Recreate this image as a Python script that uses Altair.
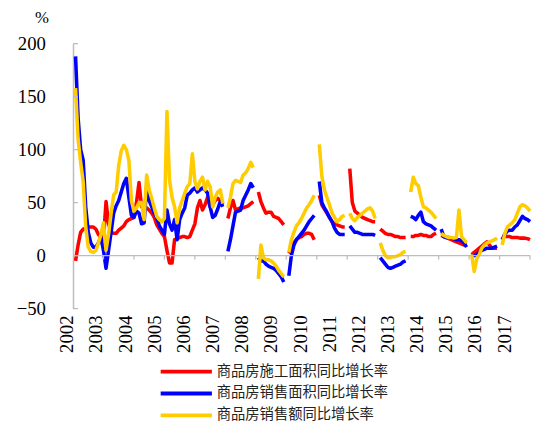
import altair as alt
import pandas as pd

N = None
series_names = ["商品房施工面积同比增长率", "商品房销售面积同比增长率", "商品房销售额同比增长率"]
series_colors = ["#FF0000", "#0000FF", "#FFCC00"]

# monthly values, month index 0 = 2002-01 ... 180 = 2017-01 (None = not published)
red = (
    [N, -5, 10, 22, 25, 26, 27, 27, 27, 25, 20, 17]
    + [15, 51, 30, 22, 21, 21, 24, 26, 28, 32, 34, 35]
    + [36, 50, 69, 46, 46, 45, 43, 40, 36, 29, 25, 21]
    + [18, 5, -7, -7, 15, 16, 17, 18, 18, 17, 18, 24]
    + [30, 45, 52, 43, 48, 55, 46, 48, 52, 54, 52, 48]
    + [N, 35, 45, 52, 43, 44, 45, 45, 46, 47, 49, 51]
    + [N, 60, 51, 45, 40, 41, 41, 37, 36, 35, 32, 29]
    + [N, 2, 6, 12, 15, 17, 18, 20, 21, 21, 20, 15]
    + [N, 57, 48, 44, 40, 36, 32, 30, 29, 28, 27, 27]
    + [N, 82, 50, 42, 40, 38, 36, 35, 34, 33, 32, 32]
    + [N, 25, 23, 21, 20, 20, 19, 18, 18, 17, 17, 17]
    + [N, 18, 18, 19, 19, 20, 19, 19, 18, 18, 20, 21]
    + [N, 19, 18, 17, 16, 15, 14, 13, 12, 11, 10, 10]
    + [N, 1, 3, 5, 7, 9, 11, 13, 10, 7, 7, 7]
    + [N, 18, 18, 18, 18, 17, 17, 17, 16.5, 16.5, 16.5, 16]
    + [15]
)
blue = (
    [N, 188, 130, 100, 90, 46, 22, 12, 8, 8, 12, 17]
    + [5, -12, 5, 22, 40, 47, 52, 60, 68, 73, 55, 38]
    + [36, 42, 40, 30, 31, 65, 52, 46, 40, 36, 28, 24]
    + [20, 43, 30, 24, 34, 15, 34, 40, 45, 57, 59, 62]
    + [64, 60, 62, 64, 62, 59, 46, 36, 38, 44, 51, 46]
    + [N, 4, 15, 28, 41, 42, 43, 52, 57, 62, 68, 64]
    + [N, -2, -5, -5, -8, -10, -11, -12, -14, -17, -20, -25]
    + [N, -19, 0, 10, 15, 18, 21, 24, 28, 32, 35, 38]
    + [N, 70, 50, 45, 41, 36, 32, 26, 22, 20, 20, 20]
    + [N, 28, 25, 22, 22, 21, 20, 20, 20, 20, 20, 19]
    + [N, -2, -5, -8, -11, -12, -11, -10, -9, -8, -6, -5]
    + [N, 37, 36, 34, 38, 41, 32, 30, 29, 28, 26, 24]
    + [N, 25, 18, 17, 17, 16.5, 16, 15, 15, 14, 12, 8]
    + [N, -1, 0, 1, 3, 5, 6, 7, 7, 7, 8, 9]
    + [N, 15, 20, 23, 24, 24, 27, 29, 33, 37, 35, 34]
    + [32]
)
yellow = (
    [N, 158, 110, 88, 70, 27, 8, 4, 3, 5, 12, 20]
    + [31, 5, 20, 40, 57, 60, 85, 99, 104, 100, 90, 52]
    + [42, 45, 50, 50, 34, 76, 62, 54, 45, 37, 34, 32]
    + [35, 136, 71, 55, 46, 31, 45, 52, 59, 65, 68, 96]
    + [70, 63, 70, 74, 62, 70, 65, 46, 55, 60, 62, 49]
    + [N, 45, 55, 68, 71, 70, 69, 76, 78, 82, 88, 83]
    + [N, -22, 10, -2, -4, -4, -5, -7, -10, -14, -17, -20]
    + [N, 3, 15, 22, 28, 31, 35, 40, 45, 48, 52, 57]
    + [N, 105, 75, 62, 55, 48, 40, 36, 32, 34, 37, 38]
    + [N, 40, 35, 33, 36, 38, 40, 42, 44, 45, 42, 35]
    + [N, 12, 5, 0, -2, -2, -1, -1, 0, 1, 3, 4]
    + [N, 60, 74, 68, 66, 55, 46, 45, 43, 41, 38, 35]
    + [N, 21, 19, 18, 17, 17, 16.5, 17, 43, 18, 15, 12]
    + [N, 1, -15, -3, 1, 7, 10, 12, 13, 14, 15, 16.5]
    + [N, 10, 20, 27, 29, 31, 34, 40, 46, 48, 47, 45]
    + [42]
)

years = [str(y) for y in range(2002, 2018)]
y_ticks = [-50, 0, 50, 100, 150, 200]
year_tick_months = [12 * k for k in range(1, 16)]
# year labels are evenly spread, slightly tighter than the year ticks
label_pos = [-2.2 + 11.48 * i for i in range(len(years))]

# long table; a new segment starts after every missing month so the line breaks there
rows = []
for order, (name, vals) in enumerate(zip(series_names, [red, blue, yellow])):
    seg = 0
    for m, v in enumerate(vals):
        if v is None:
            seg += 1
            continue
        rows.append({"m": m, "value": v, "series": name, "seg": f"{order}-{seg}"})
df = pd.DataFrame(rows)

GRAY = "#bdbdbd"
SERIF = "Liberation Serif, Times New Roman, DejaVu Serif, serif"
CJK = "Noto Sans CJK SC"

xscale = alt.Scale(domain=[0, 180], nice=False, zero=False)
yscale = alt.Scale(domain=[-50, 200], nice=False, zero=False)


def y_axis():
    return alt.Axis(
        values=y_ticks,
        title="%",
        titleAngle=0,
        titleX=-32,
        titleY=-26,
        titleAlign="center",
        titleBaseline="middle",
        titleFont=SERIF,
        titleFontSize=17,
        titleFontWeight="normal",
        titleColor="black",
        labelFont=SERIF,
        labelFontSize=19,
        labelColor="black",
        labelPadding=28,
        ticks=False,
        grid=False,
        domainColor=GRAY,
        domainWidth=1.5,
    )


lines = alt.Chart(df).mark_line(strokeWidth=3.6, strokeJoin="round").encode(
    x=alt.X("m:Q", scale=xscale, axis=None),
    y=alt.Y("value:Q", scale=yscale, axis=y_axis()),
    color=alt.Color(
        "series:N",
        scale=alt.Scale(domain=series_names, range=series_colors),
        legend=None,
    ),
    detail="seg:N",
)

zero_line = alt.Chart(pd.DataFrame({"y": [0]})).mark_rule(color=GRAY, strokeWidth=1.3).encode(
    y=alt.Y("y:Q", scale=yscale, axis=y_axis())
)

x_ticks = alt.Chart(pd.DataFrame({"m": year_tick_months, "y0": [0] * 15, "y1": [-3.7] * 15})).mark_rule(
    color=GRAY, strokeWidth=1.3
).encode(
    x=alt.X("m:Q", scale=xscale, axis=None),
    y=alt.Y("y0:Q", scale=yscale, axis=y_axis()),
    y2="y1:Q",
)

y_inner_ticks = alt.Chart(pd.DataFrame({"v": y_ticks})).mark_rule(color=GRAY, strokeWidth=1.3).encode(
    y=alt.Y("v:Q", scale=yscale, axis=y_axis()), x=alt.value(0), x2=alt.value(5)
)

year_labels = alt.Chart(pd.DataFrame({"year": years, "pos": label_pos})).mark_text(
    angle=270, align="right", baseline="middle", font=SERIF, fontSize=19, color="black"
).encode(x=alt.X("pos:Q", scale=xscale, axis=None), y=alt.value(276), text="year:N")

# legend drawn below the plot: one short line and one label per series
legend_layers = []
for i, (name, col) in enumerate(zip(series_names, series_colors)):
    ldf = pd.DataFrame({"series": [name]})
    row_y = 333 + 22.2 * i
    legend_layers.append(
        alt.Chart(ldf).mark_rule(color=col, strokeWidth=4).encode(
            x=alt.value(89), x2=alt.value(141), y=alt.value(row_y)
        )
    )
    legend_layers.append(
        alt.Chart(ldf).mark_text(
            align="left", baseline="middle", font=CJK, fontSize=14.5, color="#222222"
        ).encode(x=alt.value(146), y=alt.value(row_y), text="series:N")
    )

chart = alt.layer(lines, zero_line, x_ticks, y_inner_ticks, year_labels, *legend_layers).properties(
    width=464,
    height=269,
    autosize=alt.AutoSizeParams(type="none"),
    padding={"left": 66, "top": 33, "right": 3, "bottom": 115},
).configure_view(stroke=None)

chart.save("out.html", embed_options={"renderer": "svg", "actions": False})
